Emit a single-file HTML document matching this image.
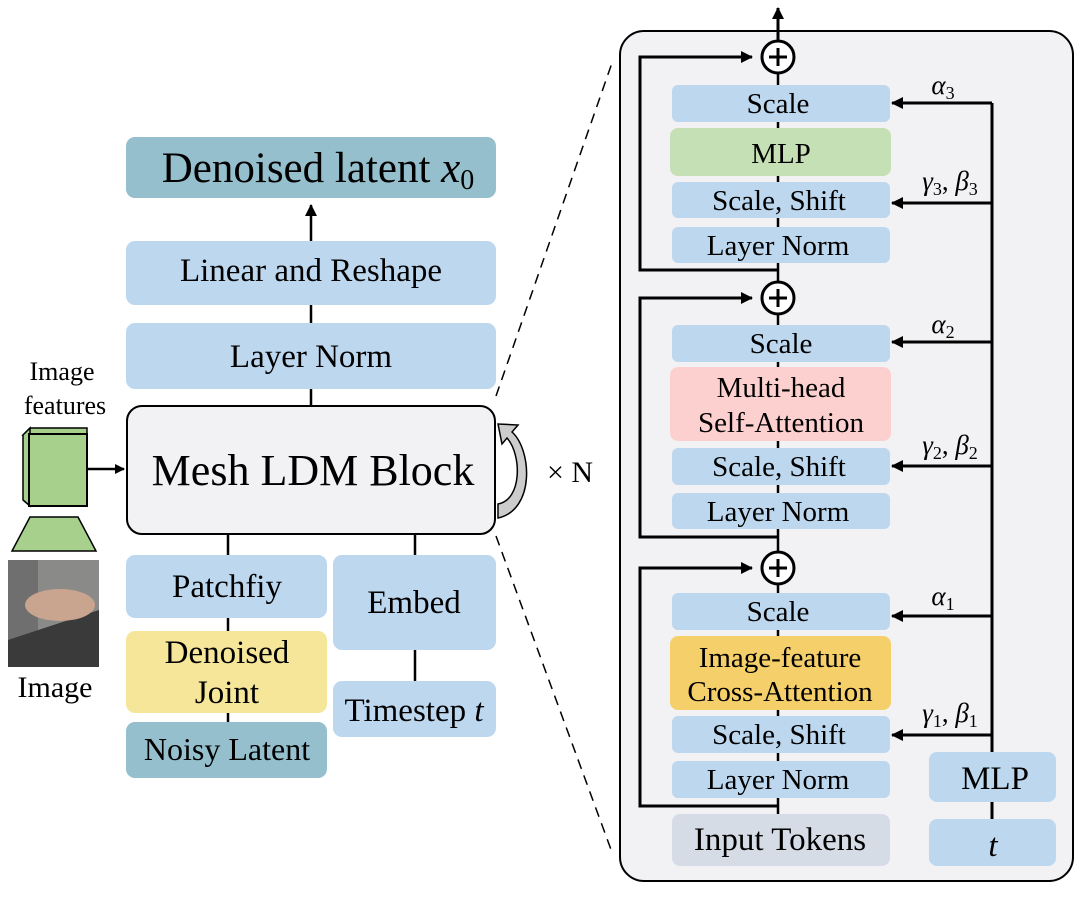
<!DOCTYPE html>
<html><head><meta charset="utf-8"><style>
html,body{margin:0;padding:0;background:#fff;}
svg{display:block;font-family:"Liberation Serif",serif;}
</style></head><body>
<svg width="1080" height="900" viewBox="0 0 1080 900" xmlns="http://www.w3.org/2000/svg">
<defs>
<marker id="ah" markerWidth="10" markerHeight="10" refX="9" refY="5" orient="auto" markerUnits="userSpaceOnUse"><path d="M0,0 L10,5 L0,10 z" fill="#000"/></marker>
<marker id="ah2" markerWidth="12" markerHeight="12" refX="11" refY="6" orient="auto" markerUnits="userSpaceOnUse"><path d="M0,0 L12,6 L0,12 z" fill="#000"/></marker>
</defs>
<!-- left column -->
<line x1="311" y1="241" x2="311" y2="205" stroke="#000" stroke-width="2.5" marker-end="url(#ah2)"/>
<rect x="126" y="137" width="370" height="61" rx="9" fill="#95bfcd"/>
<text x="318" y="182" font-size="43" text-anchor="middle">Denoised latent <tspan font-style="italic">x</tspan><tspan font-size="28" dy="7">0</tspan></text>
<rect x="126" y="241" width="370" height="64" rx="9" fill="#bdd7ee"/>
<text x="311" y="281" font-size="33" text-anchor="middle">Linear and Reshape</text>
<line x1="311" y1="305" x2="311" y2="323" stroke="#000" stroke-width="2.5"/>
<rect x="126" y="323" width="370" height="66" rx="9" fill="#bdd7ee"/>
<text x="311" y="367" font-size="33" text-anchor="middle">Layer Norm</text>
<line x1="311" y1="389" x2="311" y2="405" stroke="#000" stroke-width="2.5"/>
<rect x="127" y="406" width="368" height="128" rx="15" fill="#f2f2f4" stroke="#000" stroke-width="2"/>
<text x="313" y="485" font-size="44" text-anchor="middle">Mesh LDM Block</text>
<line x1="228" y1="534" x2="228" y2="555" stroke="#000" stroke-width="2.5"/>
<line x1="415" y1="534" x2="415" y2="555" stroke="#000" stroke-width="2.5"/>
<line x1="228" y1="618" x2="228" y2="631" stroke="#000" stroke-width="2.5"/>
<line x1="228" y1="713" x2="228" y2="722" stroke="#000" stroke-width="2.5"/>
<line x1="415" y1="650" x2="415" y2="681" stroke="#000" stroke-width="2.5"/>
<rect x="126" y="555" width="201" height="63" rx="9" fill="#bdd7ee"/>
<text x="227" y="597" font-size="33" text-anchor="middle">Patchfiy</text>
<rect x="126" y="631" width="201" height="82" rx="9" fill="#f5e699"/>
<text x="227" y="663" font-size="33" text-anchor="middle">Denoised</text>
<text x="227" y="703" font-size="33" text-anchor="middle">Joint</text>
<rect x="126" y="722" width="201" height="56" rx="9" fill="#95bfcd"/>
<text x="227" y="760" font-size="32" text-anchor="middle">Noisy Latent</text>
<rect x="333" y="555" width="163" height="95" rx="9" fill="#bdd7ee"/>
<text x="414" y="613" font-size="33" text-anchor="middle">Embed</text>
<rect x="333" y="681" width="163" height="56" rx="9" fill="#bdd7ee"/>
<text x="414" y="721" font-size="33" text-anchor="middle">Timestep <tspan font-style="italic">t</tspan></text>
<!-- image features -->
<text x="62" y="380" font-size="26" text-anchor="middle">Image</text>
<text x="65" y="414" font-size="26" text-anchor="middle">features</text>
<polygon points="23,435 30,428 87,428 87,435" fill="#a8d08d" stroke="#000" stroke-width="1.5"/>
<polygon points="23,435 30,428 30,506 23,500" fill="#a8d08d" stroke="#000" stroke-width="1.5"/>
<rect x="29" y="434" width="58" height="72" fill="#a8d08d" stroke="#000" stroke-width="2"/>
<line x1="87" y1="469" x2="124" y2="469" stroke="#000" stroke-width="2.5" marker-end="url(#ah)"/>
<polygon points="30,517 78,517 96,551 12,551" fill="#a8d08d" stroke="#000" stroke-width="1.5"/>
<rect x="8" y="560" width="91" height="107" fill="#8a8a88"/>
<rect x="8" y="560" width="30" height="107" fill="#6f6f70"/>
<polygon points="8,640 99,610 99,667 8,667" fill="#3a3a3a"/>
<ellipse cx="60" cy="605" rx="35" ry="16" fill="#c9a48e"/>
<text x="55" y="697" font-size="30" text-anchor="middle">Image</text>
<!-- loop arrow -->
<path d="M498,518 C535,510 532,450 512,432 L518,425 L498,424 L502,444 L507,438 C522,455 522,500 498,504 z" fill="#ccc" stroke="#000" stroke-width="1.5"/>
<text x="570" y="482" font-size="30" text-anchor="middle">× N</text>
<!-- dashed -->
<line x1="496" y1="396" x2="613" y2="60" stroke="#000" stroke-width="1.5" stroke-dasharray="10,7"/>
<line x1="496" y1="536" x2="613" y2="855" stroke="#000" stroke-width="1.5" stroke-dasharray="10,7"/>
<!-- right panel -->
<rect x="620" y="31" width="453" height="850" rx="24" fill="#f2f2f4" stroke="#000" stroke-width="2"/>
<line x1="778" y1="41" x2="778" y2="8" stroke="#000" stroke-width="3" marker-end="url(#ah2)"/>
<line x1="778" y1="73" x2="778" y2="814" stroke="#000" stroke-width="2.5"/>
<!-- skips -->
<polyline points="778,270 640,270 640,57 752,57" fill="none" stroke="#000" stroke-width="3" marker-end="url(#ah2)"/>
<polyline points="778,537 640,537 640,298 752,298" fill="none" stroke="#000" stroke-width="3" marker-end="url(#ah2)"/>
<polyline points="778,806 640,806 640,568 752,568" fill="none" stroke="#000" stroke-width="3" marker-end="url(#ah2)"/>
<g fill="#fff" stroke="#000" stroke-width="3">
<circle cx="778" cy="57" r="16"/><circle cx="778" cy="298" r="16"/><circle cx="778" cy="568" r="16"/>
</g>
<g stroke="#000" stroke-width="3">
<line x1="769" y1="57" x2="787" y2="57"/><line x1="778" y1="48" x2="778" y2="66"/>
<line x1="769" y1="298" x2="787" y2="298"/><line x1="778" y1="289" x2="778" y2="307"/>
<line x1="769" y1="568" x2="787" y2="568"/><line x1="778" y1="559" x2="778" y2="577"/>
</g>
<g font-size="29" text-anchor="middle">
<rect x="672" y="85" width="218" height="37" rx="6" fill="#bdd7ee"/><text x="778" y="113">Scale</text>
<rect x="670" y="128" width="221" height="48" rx="8" fill="#c5e0b4"/><text x="781" y="163">MLP</text>
<rect x="672" y="182" width="218" height="36" rx="6" fill="#bdd7ee"/><text x="779" y="210">Scale, Shift</text>
<rect x="672" y="227" width="218" height="36" rx="6" fill="#bdd7ee"/><text x="778" y="255">Layer Norm</text>
<rect x="672" y="325" width="218" height="37" rx="6" fill="#bdd7ee"/><text x="781" y="353">Scale</text>
<rect x="670" y="367" width="221" height="74" rx="8" fill="#fdd0d0"/><text x="781" y="397">Multi-head</text><text x="781" y="432">Self-Attention</text>
<rect x="672" y="448" width="218" height="37" rx="6" fill="#bdd7ee"/><text x="779" y="476">Scale, Shift</text>
<rect x="672" y="493" width="218" height="36" rx="6" fill="#bdd7ee"/><text x="778" y="521">Layer Norm</text>
<rect x="672" y="593" width="218" height="37" rx="6" fill="#bdd7ee"/><text x="778" y="621">Scale</text>
<rect x="670" y="636" width="221" height="74" rx="8" fill="#f5cf6a"/><text x="780" y="667">Image-feature</text><text x="780" y="701">Cross-Attention</text>
<rect x="672" y="716" width="218" height="37" rx="6" fill="#bdd7ee"/><text x="779" y="744">Scale, Shift</text>
<rect x="672" y="761" width="218" height="37" rx="6" fill="#bdd7ee"/><text x="778" y="789">Layer Norm</text>
<rect x="672" y="814" width="218" height="52" rx="8" fill="#d6dce6"/><text x="780" y="850" font-size="33">Input Tokens</text>
</g>
<!-- right column -->
<polyline points="992,752 992,103" fill="none" stroke="#000" stroke-width="3"/>
<line x1="992" y1="103" x2="892" y2="103" stroke="#000" stroke-width="3" marker-end="url(#ah2)"/>
<line x1="992" y1="203" x2="892" y2="203" stroke="#000" stroke-width="3" marker-end="url(#ah2)"/>
<line x1="992" y1="342" x2="892" y2="342" stroke="#000" stroke-width="3" marker-end="url(#ah2)"/>
<line x1="992" y1="466" x2="892" y2="466" stroke="#000" stroke-width="3" marker-end="url(#ah2)"/>
<line x1="992" y1="616" x2="892" y2="616" stroke="#000" stroke-width="3" marker-end="url(#ah2)"/>
<line x1="992" y1="735" x2="892" y2="735" stroke="#000" stroke-width="3" marker-end="url(#ah2)"/>
<line x1="992" y1="802" x2="992" y2="819" stroke="#000" stroke-width="3"/>
<g font-size="27" font-style="italic" text-anchor="middle">
<text x="943" y="94">α<tspan font-size="18" dy="5" font-style="normal">3</tspan></text>
<text x="950" y="190">γ<tspan font-size="18" dy="5" font-style="normal">3</tspan><tspan dy="-5" font-style="normal">, </tspan>β<tspan font-size="18" dy="5" font-style="normal">3</tspan></text>
<text x="943" y="333">α<tspan font-size="18" dy="5" font-style="normal">2</tspan></text>
<text x="950" y="454">γ<tspan font-size="18" dy="5" font-style="normal">2</tspan><tspan dy="-5" font-style="normal">, </tspan>β<tspan font-size="18" dy="5" font-style="normal">2</tspan></text>
<text x="943" y="605">α<tspan font-size="18" dy="5" font-style="normal">1</tspan></text>
<text x="950" y="722">γ<tspan font-size="18" dy="5" font-style="normal">1</tspan><tspan dy="-5" font-style="normal">, </tspan>β<tspan font-size="18" dy="5" font-style="normal">1</tspan></text>
</g>
<rect x="929" y="752" width="127" height="50" rx="8" fill="#bdd7ee"/>
<text x="995" y="789" font-size="33" text-anchor="middle">MLP</text>
<rect x="929" y="819" width="127" height="47" rx="8" fill="#bdd7ee"/>
<text x="993" y="856" font-size="33" font-style="italic" text-anchor="middle">t</text>
</svg>
</body></html>
